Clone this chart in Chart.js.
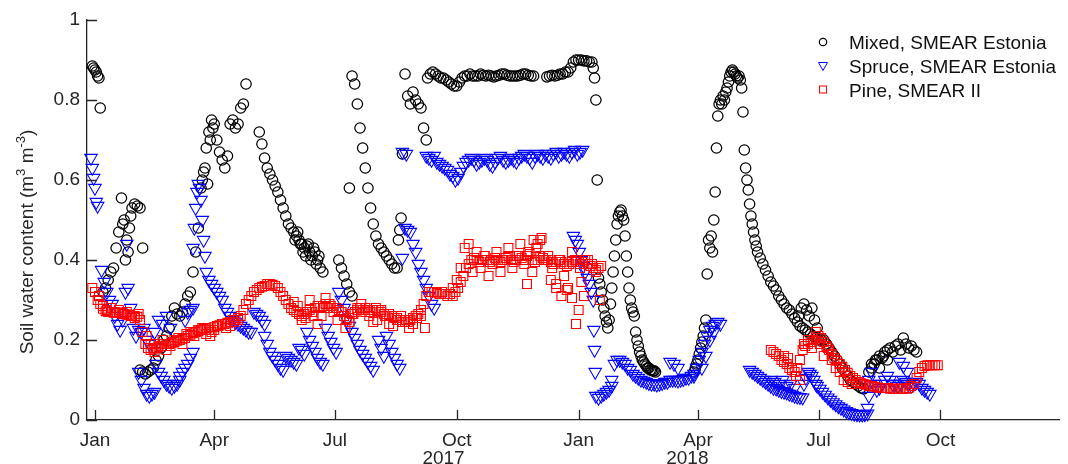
<!DOCTYPE html>
<html>
<head>
<meta charset="utf-8">
<title>Soil water content</title>
<script src="https://cdn.jsdelivr.net/npm/chart.js@4.4.1/dist/chart.umd.min.js"></script>
<style>
  html, body { margin: 0; padding: 0; background: #fff; }
</style>
</head>
<body>
<canvas id="swc" width="1068" height="464"></canvas>
<script>
// x values are days counted from 1 Jan 2017
const tickDays = [0, 90, 181, 273, 365, 455, 546, 638];
const tickLabels = ['Jan', 'Apr', 'Jul', ['Oct', '2017     '], 'Jan', ['Apr', '2018    '], 'Jul', 'Oct'];
const yTicks = [0, 0.2, 0.4, 0.6, 0.8, 1];
const seriesNames = ['Mixed, SMEAR Estonia', 'Spruce, SMEAR Estonia', 'Pine, SMEAR II'];

// runs of readings: [first day, step in days, values]
const mixedRuns = [
  [-2, 1, [0.885, 0.88, 0.875, 0.87, 0.86, 0.855, 0.78]],
  [6, 2, [0.32, 0.33, 0.35, 0.37, 0.38, 0.43, 0.47, 0.555, 0.50, 0.45, 0.48, 0.53, 0.54, 0.535, 0.53, 0.43]],
  [21, 2, [0.49, 0.40, 0.42, 0.51]],
  [34, 2, [0.125, 0.12, 0.115, 0.12, 0.125, 0.13]],
  [46, 2, [0.15, 0.16, 0.18, 0.20, 0.21, 0.23, 0.26, 0.28, 0.265, 0.26, 0.27, 0.29, 0.31, 0.32, 0.37, 0.42, 0.48, 0.58,
           0.62, 0.68, 0.72, 0.75, 0.74, 0.70, 0.67, 0.65, 0.63, 0.66, 0.74, 0.75, 0.73, 0.74, 0.78, 0.79, 0.84]],
  [81, 2, [0.60, 0.63, 0.59, 0.70, 0.73]],
  [124, 2, [0.72, 0.69, 0.655, 0.63, 0.615, 0.60, 0.585, 0.57, 0.55, 0.53, 0.51, 0.49, 0.48, 0.47, 0.46, 0.45, 0.44,
            0.43, 0.435, 0.42, 0.41, 0.42, 0.40, 0.38, 0.37]],
  [151, 2, [0.45, 0.47, 0.44, 0.42, 0.41, 0.44, 0.40, 0.43, 0.39, 0.41]],
  [184, 2, [0.40, 0.38, 0.36, 0.34, 0.32, 0.31]],
  [192, 1, [0.58]],
  [194, 2, [0.86, 0.84, 0.79, 0.73, 0.68, 0.63, 0.58, 0.53, 0.49, 0.46, 0.44, 0.43, 0.42, 0.41, 0.40, 0.39, 0.38, 0.38]],
  [229, 1, [0.45, 0.475, 0.505]],
  [232, 2, [0.665, 0.865]],
  [236, 2, [0.81, 0.79, 0.82, 0.80, 0.79, 0.78, 0.73, 0.70]],
  [251, 2, [0.855, 0.865, 0.87, 0.865, 0.86, 0.855, 0.855, 0.85, 0.845, 0.84, 0.835, 0.835, 0.845, 0.855, 0.86, 0.86,
            0.865, 0.86, 0.86, 0.86, 0.865, 0.862, 0.86, 0.862, 0.86, 0.858, 0.86, 0.862, 0.865, 0.865, 0.862, 0.86,
            0.86, 0.86, 0.86, 0.862, 0.865, 0.865, 0.862, 0.86, 0.86]],
  [341, 2, [0.858, 0.86, 0.862, 0.86, 0.862, 0.865, 0.865, 0.87, 0.87, 0.88, 0.895, 0.9, 0.9, 0.9, 0.898, 0.898, 0.895, 0.895]],
  [376, 1, [0.88, 0.855, 0.80, 0.60]],
  [380, 1, [0.355, 0.34, 0.32, 0.30, 0.28, 0.26, 0.245, 0.23, 0.25, 0.29, 0.33, 0.37, 0.41, 0.45, 0.49, 0.51, 0.52,
            0.525, 0.51, 0.50, 0.46, 0.41, 0.37, 0.33, 0.30, 0.28, 0.27, 0.26, 0.22, 0.20, 0.185, 0.17, 0.16, 0.15,
            0.145, 0.14, 0.135, 0.13, 0.13, 0.125, 0.125, 0.123, 0.123, 0.12]],
  [452, 1, [0.12, 0.13, 0.14, 0.15, 0.165, 0.18, 0.195, 0.21, 0.23, 0.25, 0.365, 0.45, 0.43, 0.46, 0.42, 0.50, 0.57,
            0.68, 0.76, 0.79, 0.80, 0.79, 0.81, 0.80, 0.82, 0.83, 0.845, 0.86, 0.87, 0.875, 0.87, 0.865, 0.86, 0.855,
            0.86, 0.85, 0.83, 0.77, 0.675]],
  [491, 1, [0.63, 0.60, 0.575, 0.54, 0.51, 0.49, 0.47, 0.45, 0.435, 0.42]],
  [502, 2, [0.405, 0.39, 0.375, 0.36, 0.345, 0.335, 0.325, 0.31, 0.30, 0.29, 0.28, 0.275, 0.265, 0.255, 0.245, 0.235,
            0.23, 0.225, 0.22, 0.215, 0.21, 0.205, 0.20, 0.20, 0.20, 0.19, 0.18, 0.17, 0.16, 0.15, 0.14, 0.13, 0.12,
            0.11, 0.10, 0.095, 0.09, 0.085, 0.08, 0.078]],
  [531, 2, [0.26, 0.28, 0.29, 0.275, 0.26, 0.28, 0.25, 0.23]],
  [584, 2, [0.12, 0.13, 0.14, 0.15, 0.16, 0.155, 0.17, 0.175, 0.18, 0.17, 0.185, 0.19, 0.175, 0.205, 0.19, 0.18, 0.185, 0.175, 0.17]],
  [586, 3, [0.14, 0.15, 0.13, 0.16, 0.15]]
];

const spruceRuns = [
  [-3, 1, [0.655, 0.63, 0.605, 0.58, 0.545, 0.535]],
  [5, 2, [0.375, 0.345, 0.32, 0.30, 0.29, 0.26, 0.24, 0.225, 0.25, 0.32, 0.33, 0.28, 0.23, 0.21, 0.225, 0.22, 0.23, 0.20, 0.19]],
  [24, 1, [0.44]],
  [33, 2, [0.12, 0.10, 0.08, 0.065, 0.06, 0.065, 0.07]],
  [45, 3, [0.22, 0.25, 0.24, 0.26, 0.23]],
  [46, 2, [0.14, 0.12, 0.11, 0.10, 0.09, 0.085, 0.08, 0.085, 0.09, 0.10]],
  [64, 2, [0.11, 0.12, 0.13, 0.14, 0.155, 0.17]],
  [68, 2, [0.25, 0.27, 0.275, 0.28]],
  [74, 1, [0.43, 0.48, 0.53, 0.57, 0.59, 0.58, 0.55, 0.50, 0.45, 0.41]],
  [84, 2, [0.37, 0.35, 0.34, 0.33, 0.32, 0.31, 0.30, 0.28, 0.27, 0.26, 0.25, 0.245, 0.24, 0.235, 0.23, 0.225, 0.22, 0.22]],
  [120, 2, [0.27, 0.265, 0.26, 0.25, 0.24]],
  [128, 2, [0.21, 0.19, 0.17, 0.16, 0.15, 0.14, 0.13, 0.125]],
  [144, 2, [0.16, 0.155, 0.15, 0.145, 0.14, 0.18, 0.175, 0.165, 0.22, 0.20, 0.185, 0.17, 0.155, 0.145, 0.14, 0.23,
            0.21, 0.195, 0.18, 0.17, 0.32, 0.30, 0.28]],
  [190, 2, [0.25, 0.235, 0.22, 0.205, 0.19, 0.175, 0.165, 0.155, 0.145, 0.135, 0.125]],
  [214, 2, [0.20, 0.18, 0.16, 0.21, 0.19, 0.17, 0.155, 0.14, 0.13]],
  [232, 2, [0.405, 0.48, 0.475, 0.47, 0.44, 0.42, 0.39, 0.37, 0.35, 0.33, 0.31, 0.29, 0.28]],
  [232, 3, [0.67, 0.665]],
  [250, 2, [0.66, 0.655, 0.65, 0.66, 0.645, 0.64, 0.635, 0.63, 0.625, 0.615, 0.61, 0.60, 0.605, 0.62, 0.635, 0.645,
            0.65, 0.655, 0.65, 0.64, 0.645, 0.65, 0.655, 0.65, 0.64, 0.635, 0.645, 0.655, 0.66, 0.65, 0.645, 0.65,
            0.655, 0.65, 0.645, 0.655, 0.66, 0.665, 0.66, 0.655, 0.645, 0.66, 0.665, 0.66, 0.655, 0.665, 0.66, 0.655,
            0.665, 0.67, 0.66, 0.665, 0.67, 0.665, 0.66, 0.67, 0.675, 0.665, 0.67, 0.675]],
  [361, 1.5, [0.46, 0.45, 0.44, 0.42, 0.40, 0.385, 0.37, 0.355, 0.34, 0.32]],
  [376, 0.5, [0.30, 0.225, 0.175, 0.12]],
  [378, 2, [0.06, 0.055, 0.06, 0.065, 0.07, 0.075, 0.085]],
  [390, 2, [0.10, 0.14, 0.15, 0.15, 0.145, 0.14, 0.13, 0.125, 0.115, 0.11, 0.105, 0.10, 0.098, 0.095, 0.092, 0.09,
            0.09, 0.088, 0.09, 0.092, 0.095, 0.095, 0.10, 0.10, 0.10, 0.098, 0.10, 0.102, 0.105, 0.105, 0.11, 0.11]],
  [434, 3, [0.145, 0.14, 0.13]],
  [452, 2, [0.115, 0.13, 0.15, 0.17, 0.19, 0.21, 0.225, 0.235, 0.24, 0.245, 0.24]],
  [458, 3, [0.13, 0.16, 0.20, 0.22]],
  [494, 2, [0.125, 0.12, 0.115, 0.11, 0.105, 0.10, 0.095, 0.09, 0.085, 0.08, 0.078, 0.075, 0.072, 0.07, 0.068, 0.065,
            0.063, 0.06, 0.058, 0.057, 0.056]],
  [510, 3, [0.10, 0.095, 0.09, 0.10, 0.085, 0.09, 0.08]],
  [535, 1.5, [0.09, 0.105, 0.12, 0.115, 0.11, 0.10, 0.09]],
  [545, 2, [0.085, 0.078, 0.07, 0.063, 0.056, 0.05, 0.044, 0.039, 0.034, 0.03, 0.026, 0.022, 0.019, 0.017, 0.015,
            0.014, 0.013, 0.013, 0.014, 0.016]],
  [583, 1, [0.03, 0.06]],
  [584, 2, [0.10, 0.12, 0.09, 0.075, 0.08, 0.09, 0.10, 0.11, 0.10, 0.09, 0.09, 0.085, 0.09, 0.10, 0.095, 0.09, 0.085,
            0.09, 0.095, 0.09, 0.08, 0.075, 0.07, 0.065]],
  [607, 3, [0.145, 0.135, 0.12]]
];

const pineRuns = [
  [-2, 2, [0.33, 0.32, 0.30, 0.29, 0.278, 0.272, 0.27, 0.27, 0.268, 0.268,
           0.268, 0.268, 0.265, 0.263, 0.263, 0.26, 0.26, 0.258, 0.25, 0.22,
           0.19, 0.18, 0.175, 0.178, 0.18, 0.183, 0.185, 0.19, 0.19, 0.19,
           0.193, 0.195, 0.198, 0.20, 0.203, 0.205, 0.21, 0.213, 0.217, 0.22,
           0.222, 0.225, 0.228, 0.23, 0.225, 0.22, 0.232, 0.235, 0.237, 0.24,
           0.24, 0.243, 0.245, 0.25, 0.25, 0.255, 0.26, 0.275, 0.29, 0.30,
           0.31, 0.32, 0.325, 0.33, 0.333, 0.335, 0.34, 0.34, 0.338, 0.335,
           0.33, 0.32, 0.31, 0.30, 0.29, 0.28, 0.275, 0.27, 0.265, 0.26,
           0.265, 0.27, 0.275, 0.27, 0.28, 0.285, 0.28, 0.285, 0.29, 0.28,
           0.285, 0.28, 0.28, 0.275, 0.27, 0.26, 0.25, 0.255, 0.265, 0.27,
           0.275, 0.28, 0.275, 0.28, 0.275, 0.27, 0.275, 0.28, 0.275, 0.27,
           0.265, 0.26, 0.265, 0.26, 0.255, 0.255, 0.25, 0.245, 0.25, 0.245,
           0.25, 0.255, 0.26, 0.265, 0.275, 0.29, 0.31, 0.32, 0.32, 0.32,
           0.318, 0.315, 0.32, 0.315, 0.31, 0.315, 0.31, 0.32, 0.33, 0.345,
           0.36, 0.38, 0.39, 0.40, 0.405, 0.40, 0.395, 0.40, 0.41, 0.40,
           0.395, 0.40, 0.405, 0.40, 0.395, 0.40, 0.405, 0.41, 0.40, 0.395,
           0.40, 0.41, 0.405, 0.40, 0.41, 0.415, 0.40, 0.395, 0.40, 0.41,
           0.405, 0.40, 0.40, 0.395, 0.39, 0.395, 0.40, 0.395, 0.39, 0.385,
           0.39, 0.395, 0.40, 0.395, 0.39, 0.395, 0.40, 0.39, 0.385, 0.38,
           0.375, 0.38, 0.385]],
  [3, 3, [0.31, 0.285, 0.275, 0.28, 0.27, 0.275, 0.265, 0.27, 0.26, 0.255, 0.265]],
  [39, 3, [0.21, 0.19, 0.17, 0.19, 0.20, 0.175, 0.185, 0.20, 0.205, 0.19, 0.215, 0.22, 0.21, 0.225, 0.23, 0.215,
           0.21, 0.225, 0.235, 0.24, 0.23, 0.235, 0.245, 0.25]],
  [150, 3, [0.295, 0.285, 0.25, 0.255, 0.30, 0.26, 0.24, 0.26, 0.305, 0.29, 0.27, 0.25, 0.27, 0.23, 0.245, 0.265,
            0.28, 0.29, 0.27, 0.26, 0.245, 0.25, 0.275, 0.26, 0.24, 0.235, 0.25, 0.26, 0.245, 0.23, 0.24, 0.255, 0.26, 0.23]],
  [270, 3, [0.33, 0.35, 0.38, 0.43, 0.44, 0.37, 0.42, 0.38, 0.41, 0.36, 0.39, 0.42, 0.37, 0.40, 0.43, 0.38, 0.41,
            0.44, 0.39, 0.42, 0.37, 0.43, 0.45, 0.40, 0.41, 0.38, 0.34, 0.40, 0.36, 0.33, 0.42, 0.40, 0.38, 0.31,
            0.40, 0.39, 0.37, 0.30]],
  [326, 1, [0.34]],
  [331, 3, [0.45, 0.44, 0.455]],
  [344, 4, [0.35, 0.33, 0.31, 0.325, 0.305]],
  [363, 2, [0.24, 0.275, 0.345]],
  [510, 2, [0.175, 0.17, 0.165, 0.16, 0.15, 0.145, 0.14, 0.13, 0.125, 0.12,
            0.13, 0.15, 0.175, 0.185, 0.19, 0.195, 0.20, 0.205, 0.21, 0.205,
            0.195, 0.185, 0.175, 0.165, 0.155, 0.148, 0.14, 0.133, 0.125, 0.118,
            0.11, 0.105, 0.10, 0.095, 0.092, 0.09, 0.088, 0.085, 0.085, 0.083,
            0.082, 0.08, 0.08, 0.08, 0.08, 0.078, 0.078, 0.078, 0.078, 0.078,
            0.078, 0.078, 0.08, 0.085, 0.09, 0.105, 0.12, 0.13, 0.135, 0.137,
            0.137, 0.137, 0.137, 0.137]],
  [520, 3, [0.16, 0.155, 0.13, 0.11, 0.10, 0.19, 0.20, 0.18, 0.22, 0.19, 0.16, 0.18, 0.15, 0.13, 0.12, 0.10, 0.095, 0.09]]
];

const axisColor = '#262626';
const fontFamily = '"Liberation Sans", Arial, Helvetica, sans-serif';

function expand(runs) {
  const pts = [];
  runs.forEach(([start, step, vals]) => {
    vals.forEach((v, i) => pts.push({ x: start + i * step, y: v }));
  });
  return pts;
}

// inward tick marks, y label with superscripts, legend
const axisDecor = {
  id: 'axisDecor',
  afterDraw(chart) {
    const { ctx, chartArea, scales: { x, y } } = chart;
    ctx.save();
    ctx.strokeStyle = axisColor;
    ctx.lineWidth = 1.3;
    ctx.beginPath();
    x.ticks.forEach((t, i) => {
      const px = Math.round(x.getPixelForTick(i)) + 0.5;
      ctx.moveTo(px, chartArea.bottom);
      ctx.lineTo(px, chartArea.bottom - 10);
    });
    y.ticks.forEach((t, i) => {
      const py = Math.round(y.getPixelForTick(i)) + 0.5;
      ctx.moveTo(chartArea.left, py);
      ctx.lineTo(chartArea.left + 10, py);
    });
    ctx.stroke();

    // y title
    const parts = [['Soil water content (m', 19, 0], ['3', 13, 8], [' m', 19, 0], ['-3', 13, 8], [')', 19, 0]];
    let total = 0;
    parts.forEach(p => { ctx.font = p[1] + 'px ' + fontFamily; p.push(ctx.measureText(p[0]).width); total += p[3]; });
    ctx.translate(33, 242);
    ctx.rotate(-Math.PI / 2);
    ctx.fillStyle = axisColor;
    ctx.textBaseline = 'alphabetic';
    ctx.textAlign = 'left';
    let pos = -total / 2;
    parts.forEach(p => {
      ctx.font = p[1] + 'px ' + fontFamily;
      ctx.fillText(p[0], pos, -p[2]);
      pos += p[3];
    });
    ctx.setTransform(1, 0, 0, 1, 0, 0);

    // legend
    const mx = 823;
    ctx.lineWidth = 1.2;
    ctx.strokeStyle = '#000';
    ctx.beginPath();
    ctx.arc(mx, 42, 3.7, 0, Math.PI * 2);
    ctx.stroke();
    ctx.lineWidth = 1;
    ctx.strokeStyle = '#0000ff';
    ctx.beginPath();
    ctx.moveTo(mx - 4.5, 62.5);
    ctx.lineTo(mx + 4.5, 62.5);
    ctx.lineTo(mx, 70.5);
    ctx.closePath();
    ctx.stroke();
    ctx.strokeStyle = '#ff0000';
    ctx.strokeRect(mx - 3.5, 86, 7, 7);

    ctx.fillStyle = '#111';
    ctx.font = '19px ' + fontFamily;
    ctx.textBaseline = 'alphabetic';
    seriesNames.forEach((name, i) => ctx.fillText(name, 849, 48.5 + i * 24));
    ctx.restore();
  }
};

Chart.defaults.font.family = fontFamily;
Chart.defaults.font.size = 19;
Chart.defaults.color = axisColor;

new Chart(document.getElementById('swc'), {
  type: 'scatter',
  data: {
    datasets: [
      {
        label: seriesNames[0],
        data: expand(mixedRuns),
        pointStyle: 'circle',
        pointRadius: 5.2,
        pointBorderWidth: 1.25,
        pointBorderColor: '#000000',
        pointBackgroundColor: 'rgba(0,0,0,0)',
        clip: false,
        order: 3
      },
      {
        label: seriesNames[1],
        data: expand(spruceRuns),
        pointStyle: 'triangle',
        pointRotation: 180,
        pointRadius: 7.2,
        pointBorderWidth: 1.1,
        pointBorderColor: '#0000ff',
        pointBackgroundColor: 'rgba(0,0,0,0)',
        clip: false,
        order: 2
      },
      {
        label: seriesNames[2],
        data: expand(pineRuns),
        pointStyle: 'rect',
        pointRadius: 6.3,
        pointBorderWidth: 1.1,
        pointBorderColor: '#ff0000',
        pointBackgroundColor: 'rgba(0,0,0,0)',
        clip: false,
        order: 1
      }
    ]
  },
  options: {
    responsive: false,
    animation: false,
    devicePixelRatio: 1,
    layout: { padding: { top: 20, right: 0, left: 0, bottom: 0 } },
    plugins: { legend: { display: false }, tooltip: { enabled: false } },
    scales: {
      x: {
        type: 'linear',
        min: -6,
        max: 728,
        afterBuildTicks: s => { s.ticks = tickDays.map(v => ({ value: v })); },
        afterFit: s => { s.height = 44; },
        grid: { display: false, drawTicks: false },
        border: { display: true, color: axisColor, width: 1.3 },
        ticks: {
          autoSkip: false,
          maxRotation: 0,
          padding: 12,
          color: axisColor,
          font: { size: 19, lineHeight: 0.95 },
          callback: (v, i) => tickLabels[i]
        }
      },
      y: {
        min: 0,
        max: 1,
        afterBuildTicks: s => { s.ticks = yTicks.map(v => ({ value: v })); },
        afterFit: s => { s.width = 87; },
        grid: { display: false, drawTicks: false },
        border: { display: true, color: axisColor, width: 1.3 },
        ticks: {
          padding: 7,
          color: axisColor,
          font: { size: 19 },
          callback: v => (v === 0 || v === 1) ? String(v) : v.toFixed(1)
        }
      }
    }
  },
  plugins: [axisDecor]
});
</script>
</body>
</html>
